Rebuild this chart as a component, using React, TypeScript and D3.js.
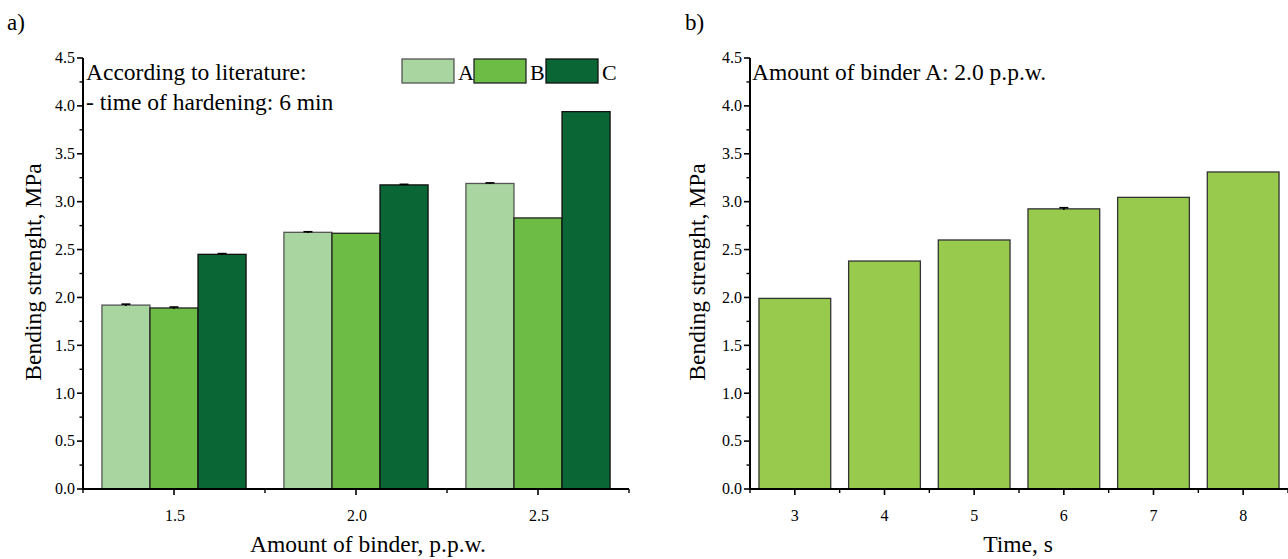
import React from "react";
import * as d3 from "d3";

const binderAmounts = [1.5, 2.0, 2.5];
const seriesNames = ["A", "B", "C"];
const valuesA = [1.92, 2.68, 3.19];
const valuesB = [1.89, 2.67, 2.83];
const valuesC = [2.45, 3.175, 3.94];
const errA = [0.01, 0.006, 0.006];
const errB = [0.01, 0, 0];
const errC = [0.008, 0.006, 0];
const seriesColors = ["#a9d5a0", "#6cbc45", "#0b6636"];
const seriesStroke = ["#555555", "#222222", "#111111"];

const times = [3, 4, 5, 6, 7, 8];
const timeValues = [1.99, 2.38, 2.6, 2.925, 3.045, 3.31];
const timeErr = [0, 0, 0, 0.012, 0, 0];
const timeColor = "#97ca4d";

const yTicks = [0, 0.5, 1, 1.5, 2, 2.5, 3, 3.5, 4, 4.5];
const yMinor = [0.25, 0.75, 1.25, 1.75, 2.25, 2.75, 3.25, 3.75, 4.25];
const xMinorA = [1.25, 1.75, 2.25, 2.75];
const xMinorB = [2.5, 3.5, 4.5, 5.5, 6.5, 7.5, 8.5];

const FONT = "'Liberation Serif', 'Times New Roman', serif";

function YAxis({ x0, y }: { x0: number; y: d3.ScaleLinear<number, number> }) {
  return (
    <g>
      <line x1={x0} x2={x0} y1={y(0)} y2={y(4.5)} stroke="#000" strokeWidth={2} />
      {yTicks.map((t) => (
        <g key={"t" + t}>
          <line x1={x0 - 6} x2={x0} y1={y(t)} y2={y(t)} stroke="#000" strokeWidth={1.6} />
          <text x={x0 - 8} y={y(t)} dy="0.33em" textAnchor="end" fontSize={16} fontFamily={FONT}>
            {d3.format(".1f")(t)}
          </text>
        </g>
      ))}
      {yMinor.map((t) => (
        <line key={"m" + t} x1={x0 - 3.5} x2={x0} y1={y(t)} y2={y(t)} stroke="#000" strokeWidth={1.4} />
      ))}
    </g>
  );
}

export default function App() {
  const y = d3.scaleLinear().domain([0, 4.5]).range([489, 58]);
  const xa = d3.scaleLinear().domain([1.25, 2.75]).range([83, 629]);
  const xb = d3.scaleLinear().domain([2.5, 8.5]).range([750, 1288]);
  const bwA = 0.132;
  const seriesVals = [valuesA, valuesB, valuesC];
  const seriesErr = [errA, errB, errC];
  const bwB = 0.8;

  return (
    <svg width={1288} height={559} style={{ position: "absolute", left: 0, top: 0, background: "#fff" }}>
      {/* Panel labels */}
      <text x={7} y={30} fontSize={23} fontFamily={FONT}>a)</text>
      <text x={685} y={30} fontSize={23} fontFamily={FONT}>b)</text>

      {/* Panel a bars */}
      {binderAmounts.map((g, gi) =>
        seriesVals.map((vals, si) => {
          const cx = g + (si - 1) * bwA;
          const x0 = xa(cx - bwA / 2);
          const x1 = xa(cx + bwA / 2);
          return (
            <g key={"a" + gi + si}>
              <rect x={x0} y={y(vals[gi])} width={x1 - x0} height={y(0) - y(vals[gi])}
                fill={seriesColors[si]} stroke={seriesStroke[si]} strokeWidth={1.3} />
              {seriesErr[si][gi] > 0 && (
                <g stroke="#000" strokeWidth={1.6}>
                  <line x1={xa(cx) - 4.5} x2={xa(cx) + 4.5} y1={y(vals[gi] + seriesErr[si][gi])} y2={y(vals[gi] + seriesErr[si][gi])} />
                  <line x1={xa(cx)} x2={xa(cx)} y1={y(vals[gi] + seriesErr[si][gi])} y2={y(vals[gi] - seriesErr[si][gi])} />
                </g>
              )}
            </g>
          );
        })
      )}

      {/* Panel a axes */}
      <YAxis x0={83} y={y} />
      <line x1={xa(1.25)} x2={xa(2.75)} y1={y(0)} y2={y(0)} stroke="#000" strokeWidth={2} />
      {binderAmounts.map((t) => (
        <g key={"xa" + t}>
          <line x1={xa(t)} x2={xa(t)} y1={y(0)} y2={y(0) + 6} stroke="#000" strokeWidth={1.6} />
          <text x={xa(t) + 1} y={y(0) + 32} textAnchor="middle" fontSize={16} fontFamily={FONT}>
            {d3.format(".1f")(t)}
          </text>
        </g>
      ))}
      {xMinorA.map((t) => (
        <line key={"xam" + t} x1={xa(t)} x2={xa(t)} y1={y(0)} y2={y(0) + 4} stroke="#000" strokeWidth={1.4} />
      ))}
      <text x={368} y={552} textAnchor="middle" fontSize={23.5} fontFamily={FONT}>Amount of binder, p.p.w.</text>
      <text transform={`translate(41,${272}) rotate(-90)`} textAnchor="middle" fontSize={23.5} fontFamily={FONT}>
        Bending strenght, MPa
      </text>

      {/* Panel a annotation */}
      <text x={86} y={80} fontSize={23.5} fontFamily={FONT}>According to literature:</text>
      <text x={86} y={110} fontSize={23.5} fontFamily={FONT}>- time of hardening: 6 min</text>

      {/* Legend */}
      {seriesNames.map((n, i) => (
        <g key={"lg" + n}>
          <rect x={402 + i * 72} y={59} width={52} height={24} fill={seriesColors[i]} stroke={seriesStroke[i]} strokeWidth={1.3} />
          <text x={402 + i * 72 + 56} y={80} fontSize={22} fontFamily={FONT}>{n}</text>
        </g>
      ))}

      {/* Panel b bars */}
      {times.map((t, i) => {
        const x0 = xb(t - bwB / 2);
        const x1 = xb(t + bwB / 2);
        return (
          <g key={"b" + t}>
            <rect x={x0} y={y(timeValues[i])} width={x1 - x0} height={y(0) - y(timeValues[i])}
              fill={timeColor} stroke="#333" strokeWidth={1.3} />
            {timeErr[i] > 0 && (
              <g stroke="#000" strokeWidth={1.6}>
                <line x1={xb(t) - 4.5} x2={xb(t) + 4.5} y1={y(timeValues[i] + timeErr[i])} y2={y(timeValues[i] + timeErr[i])} />
                <line x1={xb(t)} x2={xb(t)} y1={y(timeValues[i] + timeErr[i])} y2={y(timeValues[i] - timeErr[i])} />
              </g>
            )}
          </g>
        );
      })}

      {/* Panel b axes */}
      <YAxis x0={750} y={y} />
      <line x1={xb(2.5)} x2={xb(8.5)} y1={y(0)} y2={y(0)} stroke="#000" strokeWidth={2} />
      {times.map((t) => (
        <g key={"xb" + t}>
          <line x1={xb(t)} x2={xb(t)} y1={y(0)} y2={y(0) + 6} stroke="#000" strokeWidth={1.6} />
          <text x={xb(t)} y={y(0) + 32} textAnchor="middle" fontSize={16} fontFamily={FONT}>{t}</text>
        </g>
      ))}
      {xMinorB.map((t) => (
        <line key={"xbm" + t} x1={xb(t)} x2={xb(t)} y1={y(0)} y2={y(0) + 4} stroke="#000" strokeWidth={1.4} />
      ))}
      <text x={1018} y={552} textAnchor="middle" fontSize={23.5} fontFamily={FONT}>Time, s</text>
      <text transform={`translate(705,${272}) rotate(-90)`} textAnchor="middle" fontSize={23.5} fontFamily={FONT}>
        Bending strenght, MPa
      </text>
      <text x={752} y={80} fontSize={23.5} fontFamily={FONT}>Amount of binder A: 2.0 p.p.w.</text>
    </svg>
  );
}
